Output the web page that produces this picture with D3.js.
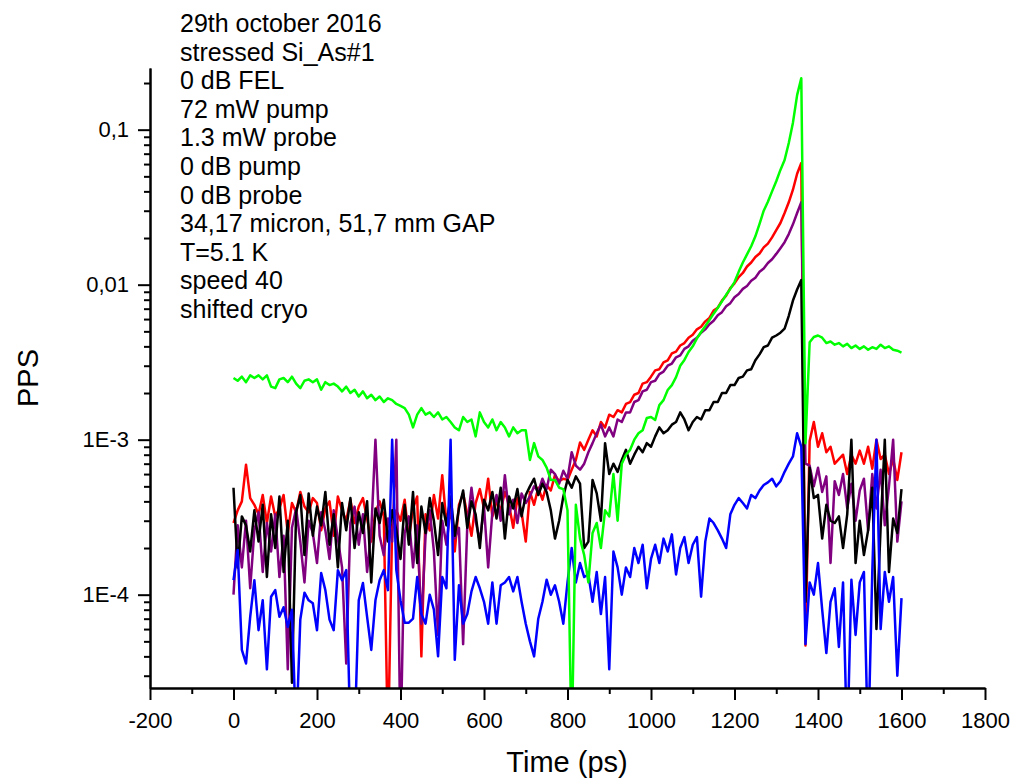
<!DOCTYPE html>
<html><head><meta charset="utf-8">
<script src="https://cdn.jsdelivr.net/npm/d3@7"></script>
<style>
body{margin:0;background:#fff}
svg{display:block}
text{font-family:"Liberation Sans",Arial,sans-serif;fill:#000}
</style>
</head><body>
<svg id="c" width="1014" height="781"></svg>
<script>
// time grid (ps), 10 ps sampling
const time = d3.range(0, 1601, 10);

const green = [
2.5e-3,2.4e-3,2.55e-3,2.35e-3,2.6e-3,2.5e-3,2.6e-3,2.45e-3,2.6e-3,2.2e-3,
2.15e-3,2.45e-3,2.5e-3,2.35e-3,2.55e-3,2.3e-3,2.15e-3,2.4e-3,2.45e-3,2.35e-3,
2.45e-3,2.1e-3,2.35e-3,2.25e-3,2.3e-3,2.2e-3,2.05e-3,2.2e-3,2.0e-3,2.1e-3,
1.9e-3,2.05e-3,1.85e-3,1.95e-3,1.8e-3,1.9e-3,1.75e-3,1.85e-3,1.8e-3,1.7e-3,
1.65e-3,1.6e-3,1.45e-3,1.2e-3,1.45e-3,1.6e-3,1.45e-3,1.5e-3,1.4e-3,1.5e-3,
1.35e-3,1.4e-3,1.3e-3,1.2e-3,1.15e-3,1.4e-3,1.3e-3,1.35e-3,1.05e-3,1.5e-3,
1.3e-3,1.2e-3,1.35e-3,1.15e-3,1.3e-3,1.2e-3,1.05e-3,1.2e-3,1.1e-3,1.15e-3,
1.15e-3,7.4e-4,9.5e-4,7.8e-4,7.4e-4,6.6e-4,5.5e-4,5.5e-4,4.9e-4,4.8e-4,
3.5e-4,1e-5,3.8e-4,2.3e-4,1.8e-4,1.2e-4,2.5e-4,2.9e-4,2.0e-4,3.5e-4,
3.2e-4,6.0e-4,3.0e-4,7.0e-4,8.0e-4,8.6e-4,1.0e-3,1.1e-3,1.15e-3,1.38e-3,
1.4e-3,1.34e-3,1.67e-3,1.8e-3,2.09e-3,2.25e-3,2.53e-3,3.0e-3,3.27e-3,3.68e-3,
4.0e-3,4.5e-3,4.95e-3,5.4e-3,5.92e-3,6.5e-3,7.1e-3,7.8e-3,8.6e-3,9.4e-3,
0.0104,0.0121,0.0139,0.0157,0.0177,0.0205,0.0247,0.030,0.0343,0.040,
0.0465,0.055,0.0637,0.082,0.111,0.167,0.215,9.5e-4,4.25e-3,4.6e-3,
4.7e-3,4.55e-3,4.2e-3,4.3e-3,4.1e-3,4.2e-3,4.0e-3,4.15e-3,3.9e-3,4.05e-3,
3.85e-3,4.0e-3,3.8e-3,3.95e-3,3.85e-3,4.1e-3,3.9e-3,4.0e-3,3.8e-3,3.75e-3,
3.65e-3];

const red = [
2.9e-4,3.5e-4,4.0e-4,6.9e-4,4.2e-4,3.8e-4,3.3e-4,4.4e-4,2.9e-4,4.3e-4,
3.2e-4,3.6e-4,4.4e-4,2.5e-4,3.9e-4,3.4e-4,4.6e-4,3.7e-4,3.4e-4,4.2e-4,
3.9e-4,2.6e-4,3.6e-4,4.0e-4,2.4e-4,4.3e-4,3.5e-4,3.0e-4,4.1e-4,2.9e-4,
3.7e-4,4.2e-4,3.1e-4,2.2e-4,3.4e-4,4.0e-4,3.2e-4,1e-5,2.8e-4,3.5e-4,
3.0e-4,4.1e-4,2.3e-4,3.6e-4,4.3e-4,4.0e-5,3.3e-4,2.6e-4,4.4e-4,3.1e-4,
5.9e-4,2.9e-4,4.1e-4,1.9e-4,3.8e-4,4.5e-4,3.3e-4,2.4e-4,3.9e-4,4.8e-4,
3.6e-4,5.6e-4,3.2e-4,4.0e-4,3.5e-4,4.6e-4,3.8e-4,2.7e-4,4.2e-4,3.4e-4,
2.2e-4,4.6e-4,3.8e-4,4.9e-4,4.1e-4,5.1e-4,4.7e-4,5.9e-4,5.4e-4,5.6e-4,
5.5e-4,6.4e-4,7.4e-4,9.6e-4,8.6e-4,1.0e-3,1.15e-3,1.05e-3,1.3e-3,1.2e-3,
1.45e-3,1.4e-3,1.55e-3,1.5e-3,1.7e-3,1.75e-3,1.95e-3,2.0e-3,2.3e-3,2.35e-3,
2.55e-3,2.8e-3,2.85e-3,3.15e-3,3.25e-3,3.6e-3,3.7e-3,4.05e-3,4.2e-3,4.55e-3,
4.75e-3,5.15e-3,5.35e-3,5.8e-3,6.1e-3,6.8e-3,7.1e-3,7.9e-3,8.5e-3,9.5e-3,
0.0102,0.0112,0.0119,0.0131,0.0139,0.0151,0.0159,0.0174,0.0184,0.0202,
0.0225,0.025,0.029,0.034,0.041,0.052,0.061,4.7e-5,9.8e-4,1.3e-3,
9.0e-4,1.1e-3,8.3e-4,9.0e-4,7.0e-4,7.5e-4,8.0e-4,6.0e-4,8.0e-4,7.0e-4,
8.5e-4,7.0e-4,9.0e-4,6.5e-4,1.0e-3,7.5e-4,8.0e-4,6.0e-4,7.5e-4,5.5e-4,
8.3e-4];

const purple = [
1.0e-4,2.8e-4,1.5e-4,3.0e-4,1.1e-4,2.6e-4,3.4e-4,1.4e-4,2.9e-4,1.9e-4,
3.3e-4,1.3e-4,2.4e-4,3.3e-5,2.7e-4,3.6e-4,2.2e-4,1.2e-4,3.0e-4,2.5e-4,
1.6e-4,3.4e-4,2.6e-4,1.7e-4,3.5e-4,2.3e-4,1.5e-4,3.6e-5,2.9e-4,3.7e-4,
2.1e-4,3.3e-4,1.4e-4,2.6e-4,1.0e-3,2.4e-4,1.8e-4,3.1e-4,2.2e-4,1.0e-3,
1e-5,2.5e-4,3.2e-4,1.5e-4,2.8e-4,6.5e-5,2.4e-4,3.5e-4,1.9e-4,5.5e-5,
3.0e-4,2.1e-4,3.6e-4,2.3e-4,2.7e-4,4.8e-5,2.8e-4,4.9e-4,3.0e-4,2.2e-4,
3.7e-4,1.5e-4,3.4e-4,4.4e-4,3.0e-4,5.9e-4,3.3e-4,4.1e-4,2.9e-4,4.5e-4,
3.9e-4,4.3e-4,5.0e-4,4.6e-4,5.6e-4,4.8e-4,6.4e-4,6.0e-4,5.2e-4,6.3e-4,
5.6e-4,8.3e-4,6.8e-4,6.4e-4,7.0e-4,8.3e-4,9.5e-4,1.1e-3,1.25e-3,1.05e-3,
1.2e-3,1.05e-3,1.35e-3,1.3e-3,1.5e-3,1.5e-3,1.75e-3,1.8e-3,2.05e-3,2.1e-3,
2.35e-3,2.4e-3,2.65e-3,2.75e-3,3.0e-3,3.1e-3,3.4e-3,3.5e-3,3.85e-3,4.0e-3,
4.35e-3,4.55e-3,4.9e-3,5.15e-3,5.55e-3,5.85e-3,6.35e-3,6.65e-3,7.25e-3,7.6e-3,
8.3e-3,8.7e-3,9.4e-3,9.8e-3,0.0106,0.0111,0.0121,0.0127,0.0138,0.0146,
0.0158,0.0172,0.0188,0.0212,0.0245,0.029,0.034,7.0e-4,6.8e-4,5.0e-4,
6.6e-4,4.6e-4,5.8e-4,1.6e-4,5.4e-4,4.4e-4,6.0e-4,3.6e-4,5.2e-4,3.0e-4,
4.7e-4,5.6e-4,2.6e-4,6.0e-4,3.6e-4,6.4e-4,2.8e-4,5.0e-4,1.0e-3,2.2e-4,
4.0e-4];

const black = [
4.9e-4,1.5e-4,3.2e-4,2.8e-4,1.9e-4,3.5e-4,2.2e-4,3.8e-4,1.3e-4,3.3e-4,
2.0e-4,4.3e-4,1.4e-4,3.0e-4,2.7e-5,3.4e-4,4.4e-4,1.8e-4,4.5e-4,2.4e-4,
3.7e-4,2.8e-4,4.6e-4,2.1e-4,3.3e-4,1.5e-4,3.9e-4,2.6e-4,4.2e-4,2.0e-4,
3.4e-4,2.5e-4,4.0e-4,1.2e-4,3.6e-4,2.9e-4,4.1e-4,2.2e-4,3.5e-4,2.6e-4,
1.7e-4,3.8e-4,2.1e-4,4.6e-4,1.6e-4,3.7e-4,2.5e-4,4.2e-4,3.0e-4,1.8e-4,
3.9e-4,2.8e-4,4.3e-4,2.4e-4,3.6e-4,4.7e-4,2.7e-4,4.0e-4,3.3e-4,2.0e-4,
4.1e-4,3.5e-4,4.6e-4,3.1e-4,4.9e-4,2.3e-4,4.3e-4,3.6e-4,4.8e-4,3.2e-4,
4.4e-4,5.0e-4,5.6e-4,4.4e-4,5.2e-4,4.6e-4,3.5e-4,2.3e-4,3.0e-4,4.3e-4,
5.5e-4,4.9e-4,5.8e-4,5.2e-4,2.0e-4,2.2e-4,5.5e-4,4.5e-4,3.0e-4,9.5e-4,
6.0e-4,7.0e-4,6.2e-4,7.4e-4,8.6e-4,7.0e-4,8.0e-4,9.0e-4,8.3e-4,9.5e-4,
9.0e-4,1.05e-3,1.2e-3,1.1e-3,1.15e-3,1.25e-3,1.3e-3,1.5e-3,1.35e-3,1.15e-3,
1.3e-3,1.4e-3,1.35e-3,1.55e-3,1.55e-3,1.75e-3,1.75e-3,2.0e-3,2.0e-3,2.25e-3,
2.25e-3,2.5e-3,2.55e-3,2.8e-3,2.85e-3,3.25e-3,3.55e-3,3.95e-3,4.05e-3,4.55e-3,
4.7e-3,4.9e-3,5.2e-3,6.3e-3,7.9e-3,9.3e-3,0.0107,9.0e-5,6.6e-4,4.2e-4,
4.4e-4,2.3e-4,3.8e-4,3.0e-4,2.9e-4,3.2e-4,2.0e-4,3.3e-4,1.0e-3,1.6e-4,
3.0e-4,1.8e-4,2.6e-4,4.9e-4,6.0e-5,2.7e-4,1.0e-3,1.4e-4,3.1e-4,2.5e-4,
4.8e-4];

const blue = [
1.24e-4,1.94e-4,4.4e-5,3.6e-5,7.2e-5,1.24e-4,5.9e-5,9.2e-5,3.3e-5,9.7e-5,
1.07e-4,7.2e-5,8.3e-5,6.2e-5,8.0e-5,1.2e-5,6.9e-5,1.03e-4,9.2e-5,8.8e-5,
5.9e-5,1.38e-4,1.07e-4,6.9e-5,5.9e-5,1.44e-4,1.24e-4,1.44e-4,1.2e-5,1.2e-5,
9.2e-5,1.19e-4,7.2e-5,4.4e-5,9.2e-5,1.24e-4,1.44e-4,1.07e-4,1.0e-3,1.44e-4,
9.2e-5,6.6e-5,6.6e-5,7.0e-5,1.3e-4,7.5e-5,6.5e-5,1.0e-4,8.0e-5,4.0e-5,
1.3e-4,1.1e-4,1.0e-3,3.8e-5,1.15e-4,6.5e-5,7.5e-5,1.05e-4,1.3e-4,1.1e-4,
9.0e-5,6.5e-5,1.2e-4,6.5e-5,1.15e-4,1.2e-4,1.3e-4,1.05e-4,1.3e-4,9.0e-5,
6.5e-5,5.0e-5,4.0e-5,7.0e-5,9.0e-5,1.25e-4,1.0e-4,1.15e-4,9.0e-5,6.5e-5,
1.2e-4,2.0e-4,1.2e-4,1.6e-4,1.3e-4,1.35e-4,9.0e-5,1.4e-4,7.5e-5,1.3e-4,
3.3e-5,1.9e-4,1.5e-4,1.0e-4,1.5e-4,1.3e-4,2.0e-4,1.6e-4,2.1e-4,1.1e-4,
1.7e-4,2.1e-4,1.6e-4,2.3e-4,1.9e-4,2.45e-4,1.35e-4,2.0e-4,2.35e-4,1.6e-4,
2.1e-4,2.35e-4,9.7e-5,2.2e-4,3.1e-4,2.9e-4,2.6e-4,2.3e-4,2.0e-4,3.3e-4,
3.8e-4,4.2e-4,3.9e-4,3.6e-4,4.4e-4,4.2e-4,4.7e-4,5.1e-4,5.3e-4,5.6e-4,
5.0e-4,5.4e-4,6.2e-4,7.0e-4,7.8e-4,1.1e-3,9.0e-4,4.8e-5,1.2e-4,1.0e-4,
1.6e-4,8.0e-5,4.2e-5,9.0e-5,1.1e-4,4.6e-5,1.2e-4,1.0e-5,1.25e-4,5.5e-5,
1.2e-4,1.4e-4,1.0e-5,1.4e-4,1.0e-3,6.0e-5,1.4e-4,9.0e-5,1.3e-4,3.0e-5,
9.5e-5];

const seriesNames = ["red","purple","black","blue","green"];
const seriesColors = ["#ff0000","#800080","#000000","#0000ff","#00ff00"];

const xTicks = [-200,0,200,400,600,800,1000,1200,1400,1600,1800];
const xMinorTicks = [-100,100,300,500,700,900,1100,1300,1500,1700];
const yTicks = [1e-4,1e-3,0.01,0.1];
const yTickLabels = ["1E-4","1E-3","0,01","0,1"];
const notes = ["29th october 2016","stressed Si_As#1","0 dB FEL","72 mW pump",
  "1.3 mW probe","0 dB pump","0 dB probe","34,17 micron, 51,7 mm GAP",
  "T=5.1 K","speed 40","shifted cryo"];
const xTitle = "Time (ps)";
const yTitle = "PPS";

const data = {red, purple, black, blue, green};

const svg = d3.select("#c");
const L = 150, R = 985, T = 68, B = 688;
const x = d3.scaleLinear().domain([-200, 1800]).range([L, R]);
const y = d3.scaleLog().domain([2.5e-5, 0.25]).range([B, T]);

// minor log ticks
const yMinor = [];
for (let k = -5; k <= -1; k++) for (let m = 2; m <= 9; m++) {
  const v = m * Math.pow(10, k);
  if (v >= 2.5e-5 && v <= 0.25) yMinor.push(v);
}

svg.append("defs").append("clipPath").attr("id","clip")
  .append("rect").attr("x", L).attr("y", T).attr("width", R - L).attr("height", B - T);

const line = d3.line().x((d, i) => x(time[i])).y(d => y(d));
const plot = svg.append("g").attr("clip-path", "url(#clip)");
seriesNames.forEach((n, k) => {
  plot.append("path").datum(data[n])
    .attr("fill", "none").attr("stroke", seriesColors[k])
    .attr("stroke-width", 2.5).attr("stroke-linejoin", "round")
    .attr("d", line);
});

function styleAxis(g) {
  g.select(".domain").attr("stroke", "#000").attr("stroke-width", 2);
  g.selectAll(".tick line").attr("stroke", "#000").attr("stroke-width", 2);
  g.selectAll("text").attr("font-size", 22).attr("fill", "#000")
    .attr("font-family", '"Liberation Sans", Arial, sans-serif');
}

// x axis
svg.append("g").attr("transform", `translate(0,${B})`)
  .call(d3.axisBottom(x).tickValues(xMinorTicks).tickSize(6).tickSizeOuter(0).tickFormat(""))
  .call(styleAxis);
svg.append("g").attr("transform", `translate(0,${B})`)
  .call(d3.axisBottom(x).tickValues(xTicks).tickSize(12).tickSizeOuter(0).tickPadding(12).tickFormat(d => d))
  .call(styleAxis);

// y axis
svg.append("g").attr("transform", `translate(${L},0)`)
  .call(d3.axisLeft(y).tickValues(yMinor).tickSize(6).tickSizeOuter(0).tickFormat(""))
  .call(styleAxis);
svg.append("g").attr("transform", `translate(${L},0)`)
  .call(d3.axisLeft(y).tickValues(yTicks).tickSize(12).tickSizeOuter(0).tickPadding(9)
    .tickFormat((d, i) => yTickLabels[i]))
  .call(styleAxis);

// titles
svg.append("text").attr("x", 567).attr("y", 772).attr("text-anchor", "middle")
  .attr("font-size", 29).text(xTitle);
svg.append("text").attr("transform", "translate(38,378) rotate(-90)")
  .attr("text-anchor", "middle").attr("font-size", 29).text(yTitle);

// annotation block
svg.append("g").selectAll("text").data(notes).join("text")
  .attr("x", 180).attr("y", (d, i) => 32 + i * 28.6)
  .attr("font-size", 25).text(d => d);

// sanity check
const bad = seriesNames.filter(n => data[n].length !== time.length);
if (bad.length) svg.append("text").attr("x", 500).attr("y", 40).attr("fill","magenta")
  .text("LEN " + bad.map(n => n + ":" + data[n].length).join(" "));
</script>
</body></html>
